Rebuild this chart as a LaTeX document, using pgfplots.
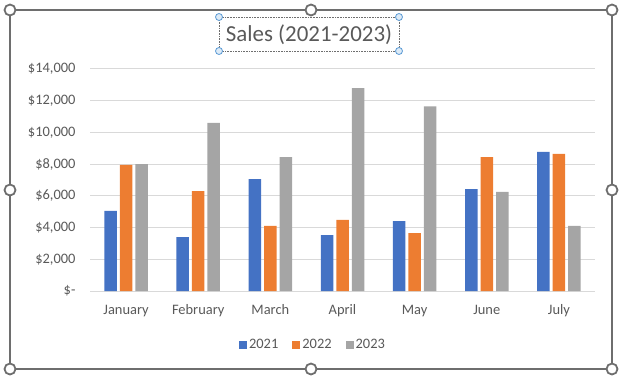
\documentclass[border=0pt]{standalone}
\usepackage{fontspec}
\setmainfont{Carlito}
\usepackage{pgfplots}
\pgfplotsset{compat=1.18}
\definecolor{cblue}{HTML}{4472C4}
\definecolor{corange}{HTML}{ED7D31}
\definecolor{cgray}{HTML}{A5A5A5}
\definecolor{gridgray}{HTML}{D9D9D9}
\definecolor{txtgray}{HTML}{595959}
\definecolor{framegray}{HTML}{6E6E6E}
\definecolor{hblue}{HTML}{5B9BD5}
\definecolor{hfill}{HTML}{DDEBF7}
\begin{document}
\begin{tikzpicture}[x=1bp,y=1bp]
\path[use as bounding box] (0,0) rectangle (623,381);
\begin{axis}[
  at={(90bp,90bp)}, anchor=south west,
  scale only axis, width=505bp, height=222bp,
  xmin=-0.5, xmax=6.5, ymin=0, ymax=14000,
  scaled y ticks=false,
  ybar=3bp, bar width=12.5bp,
  xtick={0,1,2,3,4,5,6},
  xticklabels={January,February,March,April,May,June,July},
  ytick={0,2000,4000,6000,8000,10000,12000,14000},
  yticklabels={{\$-\hspace{8bp}},{\$2,000},{\$4,000},{\$6,000},{\$8,000},{\$10,000},{\$12,000},{\$14,000}},
  major tick length=0pt,
  axis line style={draw=none},
  ymajorgrids, grid style={draw=gridgray, line width=1bp},
  ticklabel style={font=\fontsize{14.5}{16}\selectfont, text=txtgray},
  yticklabel style={xshift=-11bp},
  xticklabel style={yshift=-9bp, text height=11bp, text depth=3bp},
  legend style={at={(0.4416,-0.243)}, anchor=center, draw=none,
    legend columns=3, font=\fontsize{14.5}{16}\selectfont, text=txtgray,
    /tikz/every even column/.append style={column sep=12bp}},
  legend image code/.code={\fill[#1] (0bp,-4bp) rectangle (8bp,4bp);},
]
\addplot[fill=cblue, draw=none] coordinates {(0,5050) (1,3400) (2,7050) (3,3520) (4,4410) (5,6430) (6,8770)};
\addplot[fill=corange, draw=none] coordinates {(0,7950) (1,6300) (2,4100) (3,4480) (4,3650) (5,8450) (6,8650)};
\addplot[fill=cgray, draw=none] coordinates {(0,8000) (1,10600) (2,8450) (3,12800) (4,11650) (5,6250) (6,4100)};
\legend{2021,2022,2023}
\end{axis}
\node[text=txtgray, font=\fontsize{23}{26}\selectfont] at (309,346) {Sales (2021-2023)};
\draw[framegray, densely dotted, line width=0.6bp] (219,330) rectangle (399,364);
\foreach \p in {(219,330),(399,330),(219,364),(399,364)}
  \draw[hblue, fill=hfill, line width=0.8bp] \p circle (3.5);
\draw[framegray, line width=1.3bp] (10,12) rectangle (612,371);
\foreach \p in {(10,12),(311,12),(612,12),(10,191),(612,191),(10,371),(311,371),(612,371)}
  \draw[framegray, fill=white, line width=1.8bp] \p circle (5.5);
\end{tikzpicture}
\end{document}
